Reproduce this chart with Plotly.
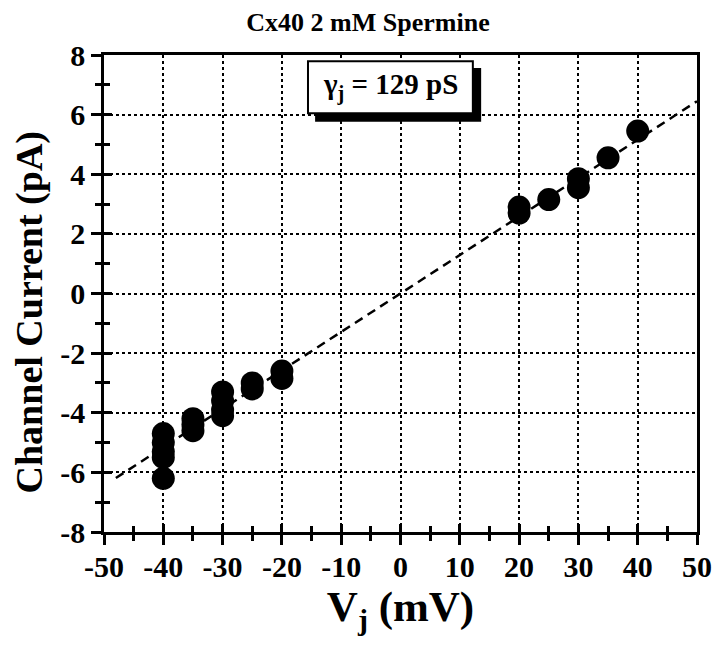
import plotly.graph_objects as go

# datos
vj_mv = [-40, -40, -40, -40, -40,
         -35, -35, -35,
         -30, -30, -30, -30,
         -25, -25,
         -20, -20,
         20, 20, 25, 30, 30, 35, 40]
current_pa = [-4.7, -5.0, -5.3, -5.5, -6.2,
              -4.2, -4.4, -4.6,
              -3.3, -3.6, -3.9, -4.1,
              -3.0, -3.2,
              -2.6, -2.85,
              2.9, 2.7, 3.15, 3.85, 3.55, 4.55, 5.45]
fit_x = [-48, 50]
fit_y = [-6.19, 6.45]  # 129 pS
x_ticks = [-50, -40, -30, -20, -10, 0, 10, 20, 30, 40, 50]
y_ticks = [-8, -6, -4, -2, 0, 2, 4, 6, 8]

FONT = "Liberation Serif"
BOLD = dict(family=FONT, size=30, color="black", weight="bold")

fig = go.Figure()

fig.add_trace(go.Scatter(
    x=fit_x, y=fit_y, mode="lines",
    line=dict(color="black", width=2.5, dash="9px,6px"),
    hoverinfo="skip"
))
fig.add_trace(go.Scatter(
    x=vj_mv, y=current_pa, mode="markers",
    marker=dict(size=23, color="black"),
))

axis_common = dict(
    showline=True, linecolor="black", linewidth=2.5,
    ticklen=10, tickwidth=2.5, tickcolor="black",
    zeroline=False, automargin=False,
)

# la página tiene 8 px de margen en el body: márgenes corregidos
fig.update_layout(
    width=720, height=650,
    plot_bgcolor="white", paper_bgcolor="white",
    showlegend=False,
    margin=dict(l=96, r=31, t=47, b=126),
    title=dict(
        text="<b>Cx40 2 mM Spermine</b>",
        x=0.5, xanchor="center", y=0.978, yanchor="middle",
        font=dict(family=FONT, size=26, color="black"),
    ),
    font=dict(family=FONT, color="black"),
    xaxis=dict(
        **axis_common,
        range=[-50, 50], tickvals=x_ticks, ticktext=[str(v) for v in x_ticks],
        ticks="outside", mirror=True, ticklabelstandoff=-4,
        minor=dict(dtick=5, ticks="outside", ticklen=6, tickwidth=2.5, tickcolor="black"),
        showgrid=True, gridcolor="black", gridwidth=1.5, griddash="dot",
        tickfont=BOLD,
        title=dict(text="<b>V<sub>j</sub> (mV)</b>", font=dict(family=FONT, size=43), standoff=2),
    ),
    yaxis=dict(
        **axis_common,
        range=[-8, 8], tickvals=y_ticks, ticktext=[str(v) for v in y_ticks],
        ticks="outside", mirror=True,
        minor=dict(dtick=1, ticks="outside", ticklen=6, tickwidth=2.5, tickcolor="black"),
        showgrid=True, gridcolor="black", gridwidth=1.5, griddash="dot",
        tickfont=BOLD,
    ),
    xaxis2=dict(
        overlaying="x", anchor="y2", range=[-50, 50], tickvals=x_ticks, ticks="inside",
        ticklen=8, tickwidth=2.5, tickcolor="black", showticklabels=False,
        showgrid=False, zeroline=False, side="bottom", showline=False,
        minor=dict(dtick=5, ticks="inside", ticklen=6, tickwidth=2.5, tickcolor="black"),
    ),
    yaxis2=dict(
        overlaying="y", anchor="x2", range=[-8, 8], tickvals=y_ticks, ticks="inside",
        ticklen=8, tickwidth=2.5, tickcolor="black", showticklabels=False,
        showgrid=False, zeroline=False, side="left", showline=False,
        minor=dict(dtick=1, ticks="inside", ticklen=6, tickwidth=2.5, tickcolor="black"),
    ),
)

# traza invisible para activar los ejes superpuestos
fig.add_trace(go.Scatter(x=[0], y=[0], xaxis="x2", yaxis="y2", mode="markers",
                         marker=dict(opacity=0), hoverinfo="skip"))

# título del eje y, algo desplazado hacia abajo como en el original
fig.add_annotation(
    xref="paper", yref="paper", x=-0.125, y=0.46, showarrow=False,
    xanchor="center", yanchor="middle", textangle=-90,
    text="<b>Channel Current (pA)</b>",
    font=dict(family=FONT, size=38, color="black"),
)

# recuadro con sombra (coordenadas relativas al área de trazado)
fig.add_shape(type="rect", xref="paper", yref="paper",
              x0=0.356, x1=0.636, y0=0.860, y1=0.973,
              fillcolor="black", line=dict(width=0))
fig.add_shape(type="rect", xref="paper", yref="paper",
              x0=0.344, x1=0.622, y0=0.878, y1=0.987,
              fillcolor="white", line=dict(color="black", width=2))
fig.add_annotation(
    xref="paper", yref="paper", x=0.483, y=0.935, showarrow=False,
    xanchor="center", yanchor="middle",
    text="<b>γ<sub>j</sub> = 129 pS</b>",
    font=dict(family=FONT, size=29, color="black"),
)

fig.write_html("out.html")
